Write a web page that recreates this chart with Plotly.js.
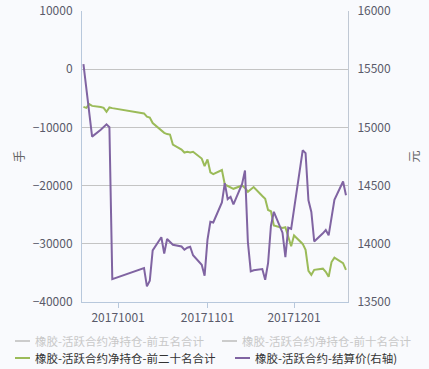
<!DOCTYPE html>
<html>
<head>
<meta charset="utf-8">
<script src="https://cdn.plot.ly/plotly-3.0.1.min.js"></script>
<style>
html,body{margin:0;padding:0;background:#f9fafd;}
#chart{width:429px;height:369px;}
</style>
</head>
<body>
<div id="chart"></div>
<script>
// Trading dates
var dates = [
  '2017-09-19','2017-09-20','2017-09-21','2017-09-22','2017-09-25','2017-09-26','2017-09-27','2017-09-28','2017-09-29',
  '2017-10-10','2017-10-11','2017-10-12','2017-10-13','2017-10-16','2017-10-17','2017-10-18','2017-10-19','2017-10-20',
  '2017-10-23','2017-10-24','2017-10-25','2017-10-26','2017-10-27','2017-10-30','2017-10-31',
  '2017-11-01','2017-11-02','2017-11-03','2017-11-06','2017-11-07','2017-11-08','2017-11-09','2017-11-10',
  '2017-11-13','2017-11-14','2017-11-15','2017-11-16','2017-11-17','2017-11-20','2017-11-21','2017-11-22','2017-11-23','2017-11-24',
  '2017-11-27','2017-11-28','2017-11-29','2017-11-30','2017-12-01','2017-12-04','2017-12-05','2017-12-06','2017-12-07','2017-12-08',
  '2017-12-11','2017-12-12','2017-12-13','2017-12-14','2017-12-15','2017-12-18','2017-12-19'
];
// 橡胶-活跃合约净持仓-前二十名合计 (手)
var top20 = [
  -6470,-6640,-6000,-6300,-6500,-6640,-7320,-6570,-6690,
  -7600,-8150,-8320,-9260,-10550,-10940,-11150,-11230,-12950,
  -13810,-14320,-14200,-14290,-14190,-15350,-16640,
  -15490,-17720,-18040,-17320,-19810,-20070,-20330,-20550,
  -19980,-20410,-21050,-20580,-20240,-21780,-22260,-24190,-24410,-26840,
  -27270,-27150,-28730,-30410,-28560,-30020,-31050,-34650,-35330,-34480,
  -34270,-34820,-35680,-33140,-32380,-33330,-34480
];
// 橡胶-活跃合约-结算价 (元, 右轴)
var settle = [
  15543,15339,15133,14921,14979,15004,15026,15002,13697,
  13792,13634,13683,13943,14056,13917,14041,14017,13992,
  13977,13949,13966,13975,13902,13820,13726,
  14035,14189,14183,14355,14521,14384,14404,14339,
  14515,14629,14017,13763,13773,13783,13691,13833,14155,14275,
  14095,13886,14138,14129,14292,14803,14779,14374,14273,14020,
  14090,14118,14073,14232,14378,14535,14417
];
var seriesNames = [
  '橡胶-活跃合约净持仓-前五名合计',
  '橡胶-活跃合约净持仓-前十名合计',
  '橡胶-活跃合约净持仓-前二十名合计',
  '橡胶-活跃合约-结算价(右轴)'
];
var leftTicks = [-40000,-30000,-20000,-10000,0,10000];
var rightTicks = [13500,14000,14500,15000,15500,16000];
var xTicks = ['2017-10-01','2017-11-01','2017-12-01'];
var xTickText = ['20171001','20171101','20171201'];

var FONT = 'Noto Sans CJK SC, sans-serif';
var GREEN = '#9bbb59', PURPLE = '#8064a2', HIDDEN = '#cccccc';

var traces = [
  {x: dates, y: top20, type: 'scatter', mode: 'lines', name: seriesNames[2],
   line: {color: GREEN, width: 2}, yaxis: 'y', showlegend: false, hoverinfo: 'skip'},
  {x: dates, y: settle, type: 'scatter', mode: 'lines', name: seriesNames[3],
   line: {color: PURPLE, width: 2}, yaxis: 'y2', showlegend: false, hoverinfo: 'skip'}
];

// legend drawn as text + short line keys
var legendItems = [
  {name: seriesNames[0], color: HIDDEN, text: '#c8c8c8', x: 15, y: 341},
  {name: seriesNames[1], color: HIDDEN, text: '#c8c8c8', x: 222, y: 341},
  {name: seriesNames[2], color: GREEN, text: '#333333', x: 15, y: 358},
  {name: seriesNames[3], color: PURPLE, text: '#333333', x: 235, y: 358}
];
var W = 429, H = 369, ML = 82, MR = 81, MT = 11, MB = 67;
var shapes = [], annotations = [];
legendItems.forEach(function(it){
  var py = (H - MB - it.y) / (H - MT - MB);
  shapes.push({type: 'line', xref: 'paper', yref: 'paper',
    x0: (it.x - ML) / (W - ML - MR), x1: (it.x + 15 - ML) / (W - ML - MR),
    y0: py, y1: py, line: {color: it.color, width: 2}});
  annotations.push({xref: 'paper', yref: 'paper', showarrow: false,
    x: (it.x + 19 - ML) / (W - ML - MR), y: py, borderpad: 0,
    xanchor: 'left', yanchor: 'middle', text: it.name,
    font: {family: FONT, size: 11.5, color: it.text}});
});

var layout = {
  width: W, height: H,
  margin: {l: ML, r: MR, t: MT, b: MB, pad: 0},
  paper_bgcolor: '#f9fafd', plot_bgcolor: '#f9fafd',
  font: {family: FONT, size: 12, color: '#5a5a6a'},
  showlegend: false,
  xaxis: {
    type: 'date', range: ['2017-09-18 12:00', '2017-12-19 17:00'],
    tickvals: xTicks, ticktext: xTickText,
    ticks: 'outside', ticklen: 5, tickcolor: '#b8c8dc', tickwidth: 1,
    showline: true, linecolor: '#b8c8dc', linewidth: 1,
    showgrid: false, zeroline: false,
    tickfont: {family: FONT, size: 12, color: '#5a5a6a'}
  },
  yaxis: {
    range: [-40000, 10000], tickvals: leftTicks, tickformat: 'd',
    showline: true, linecolor: '#b8c8dc', linewidth: 1,
    showgrid: true, gridcolor: '#c4c4c4', gridwidth: 1, zeroline: false,
    ticks: '', ticklabelstandoff: 6,
    tickfont: {family: FONT, size: 12, color: '#5a5a6a'},
    title: {text: '手', font: {family: FONT, size: 12, color: '#666666'}, standoff: 5}
  },
  yaxis2: {
    overlaying: 'y', side: 'right',
    range: [13500, 16000], tickvals: rightTicks, tickformat: 'd',
    showline: true, linecolor: '#c0c8d4', linewidth: 1,
    showgrid: false, zeroline: false,
    ticks: '', ticklabelstandoff: 6,
    tickfont: {family: FONT, size: 12, color: '#5a5a6a'},
    title: {text: '元', font: {family: FONT, size: 12, color: '#666666'}, standoff: 20}
  },
  shapes: shapes,
  annotations: annotations
};

Plotly.newPlot('chart', traces, layout, {displayModeBar: false, staticPlot: true});
</script>
</body>
</html>
